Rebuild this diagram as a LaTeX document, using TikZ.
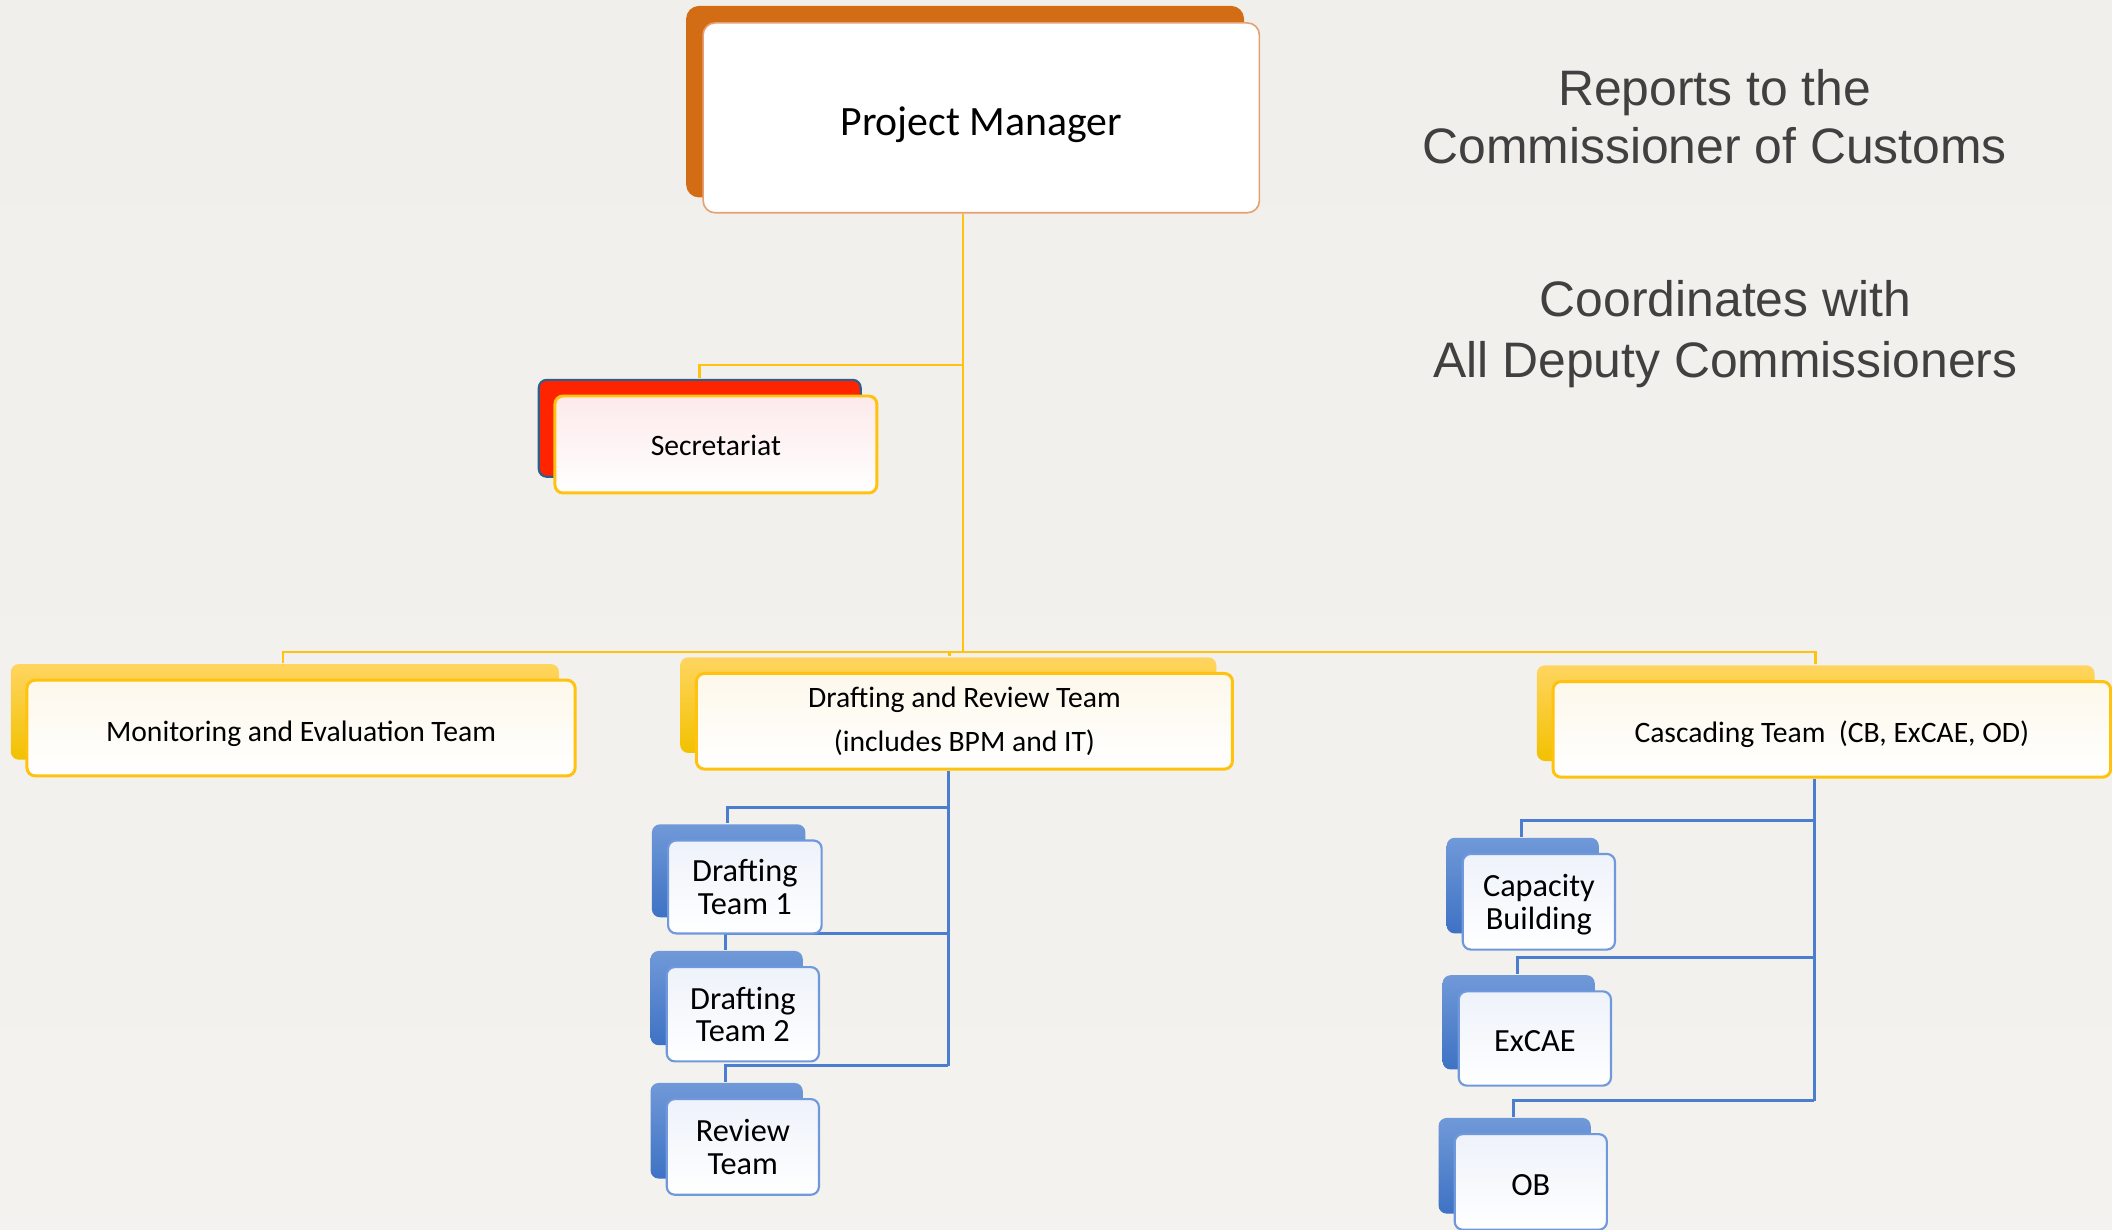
\documentclass[tikz,border=0pt]{standalone}
\usepackage{fontspec}
\setmainfont{Carlito}
\newfontfamily\arialfont{Liberation Sans}
\usetikzlibrary{shadows,calc}
\pgfdeclarelayer{bg}
\pgfdeclarelayer{lines}
\pgfsetlayers{bg,lines,main}
\definecolor{pmorange}{HTML}{D26D15}
\definecolor{pmedge}{HTML}{E6A172}
\definecolor{secred}{HTML}{FF2400}
\definecolor{secblue}{HTML}{2E5E8C}
\definecolor{secpink}{HTML}{FDE9EB}
\definecolor{ygold}{HTML}{FFC20E}
\definecolor{ycream}{HTML}{FDF8EB}
\definecolor{ybackA}{HTML}{FFD560}
\definecolor{ybackB}{HTML}{F2C100}
\definecolor{bedge}{HTML}{6F99DC}
\definecolor{bfront}{HTML}{EEF2FA}
\definecolor{bbackA}{HTML}{7099D8}
\definecolor{bbackB}{HTML}{3E72C4}
\definecolor{blinecol}{HTML}{4C7ED0}
\definecolor{rgray}{HTML}{404040}
\definecolor{bgtop}{HTML}{F1EFEB}
\definecolor{bgmid}{HTML}{E4E1DB}
\definecolor{bgbot}{HTML}{F4F2EE}
\tikzset{
  boxbase/.style={rectangle, rounded corners=3pt, align=center, inner sep=0pt, text=black},
  backshift/.style={shadow xshift=-6pt, shadow yshift=6pt},
  pmbox/.style={boxbase, rounded corners=4.5pt, draw=pmedge, line width=0.6pt, fill=white,
    general shadow={backshift, fill=pmorange, draw=pmorange},
    font=\fontsize{15.5}{18}\selectfont},
  secbox/.style={boxbase, draw=ygold, line width=1.1pt, top color=secpink, middle color=secpink, bottom color=white,
    general shadow={backshift, fill=secred, draw=secblue, line width=0.8pt},
    font=\fontsize{11}{13}\selectfont},
  ybox/.style={boxbase, draw=ygold, line width=1.1pt, top color=ycream, middle color=ycream, bottom color=white,
    general shadow={backshift, top color=ybackA, bottom color=ybackB, draw=none},
    font=\fontsize{11}{16}\selectfont},
  bbox/.style={boxbase, draw=bedge, line width=0.8pt, top color=bfront, middle color=bfront, bottom color=white,
    general shadow={backshift, top color=bbackA, bottom color=bbackB, draw=none},
    font=\fontsize{12}{12}\selectfont},
  rtext/.style={align=center, inner sep=0pt, text=rgray, font=\arialfont\fontsize{18.5}{21.5}\selectfont},
  yline/.style={draw=ygold, line width=1pt},
  bline/.style={draw=blinecol, line width=1.1pt},
}
\begin{document}
\begin{tikzpicture}[x=0.5pt,y=-0.5pt]
\useasboundingbox (0,0) rectangle (1568,913);
\begin{pgfonlayer}{bg}
\shade[top color=bgtop, middle color=bgmid, bottom color=bgbot] (0,0) rectangle (1568,913);
\end{pgfonlayer}

% nodes
\node[pmbox, minimum width=206.5pt, minimum height=70.5pt, text height=16pt] (pm) at (728.5,87.5) {Project Manager};
\node[secbox, minimum width=119.5pt, minimum height=36pt, text height=8.5pt] (sec) at (531.5,330) {Secretariat};
\node[ybox, minimum width=203.5pt, minimum height=35.5pt, text height=12pt] (me) at (223.5,540.5) {Monitoring and Evaluation Team};
\node[ybox, minimum width=199pt, minimum height=35.5pt] (dr) at (716,535.5) {Drafting and Review Team\\(includes BPM and IT)};
\node[ybox, minimum width=207pt, minimum height=35.5pt, text height=11.5pt] (cas) at (1360,541.5) {Cascading Team\ \ (CB, ExCAE, OD)};
\node[bbox, minimum width=57pt, minimum height=34.5pt, text depth=0pt] (dt1) at (553,658.5) {Drafting\\Team 1};
\node[bbox, minimum width=56.5pt, minimum height=35pt, text depth=0pt] (dt2) at (551.5,753) {Drafting\\Team 2};
\node[bbox, minimum width=56.5pt, minimum height=35.5pt, text depth=0pt] (rt) at (551.5,851.5) {Review\\Team};
\node[bbox, minimum width=56.5pt, minimum height=35.5pt, text depth=0pt] (cb) at (1142.5,669.5) {Capacity\\Building};
\node[bbox, minimum width=56.5pt, minimum height=35pt, text height=9.5pt] (ex) at (1139.5,771) {ExCAE};
\node[bbox, minimum width=56.5pt, minimum height=35.5pt, text height=10pt] (ob) at (1136.5,877.5) {OB};

\node[rtext] (rep) at (1273,86.5) {Reports to the\\Commissioner of Customs};
\node[rtext, font=\arialfont\fontsize{18.5}{22.5}\selectfont] (coord) at (1281,248) {Coordinates with\\All Deputy Commissioners};

% junction coordinates
\coordinate (bar) at (0,484);
\coordinate (secj) at (0,271);
\coordinate (pm-b) at ([xshift=-6.75pt]pm.south);
\coordinate (sec-t) at ([xshift=-6pt,yshift=6pt]sec.north);
\coordinate (me-t) at ([xshift=-6.75pt,yshift=6pt]me.north);
\coordinate (dr-t) at ([xshift=-5.5pt,yshift=6pt]dr.north);
\coordinate (cas-t) at ([xshift=-6pt,yshift=6pt]cas.north);
\coordinate (dr-s) at ([xshift=-6pt]dr.south);
\coordinate (cas-s) at ([xshift=-6.5pt]cas.south);
\foreach \n in {dt1,dt2,rt,cb,ex,ob}{
  \coordinate (\n-t) at ([xshift=-6.5pt,yshift=6pt]\n.north);
  \coordinate (\n-j) at ([xshift=-6.5pt,yshift=12pt]\n.north);
}

\begin{pgfonlayer}{lines}
\draw[yline] (pm-b) -- (pm-b |- bar);
\draw[yline] (sec-t) |- (pm-b |- secj);
\draw[yline] (me-t) |- (cas-t |- bar) -- (cas-t);
\draw[yline] (dr-t) -- (dr-t |- bar);
\draw[bline] (dr-s) -- (dr-s |- rt-j);
\draw[bline] (dt1-t) -- (dt1-j) -- (dt1-j -| dr-s);
\draw[bline] (dt2-t) -- (dt2-j) -- (dt2-j -| dr-s);
\draw[bline] (rt-t) -- (rt-j) -- (rt-j -| dr-s);
\draw[bline] (cas-s) -- (cas-s |- ob-j);
\draw[bline] (cb-t) -- (cb-j) -- (cb-j -| cas-s);
\draw[bline] (ex-t) -- (ex-j) -- (ex-j -| cas-s);
\draw[bline] (ob-t) -- (ob-j) -- (ob-j -| cas-s);
\end{pgfonlayer}
\end{tikzpicture}
\end{document}
